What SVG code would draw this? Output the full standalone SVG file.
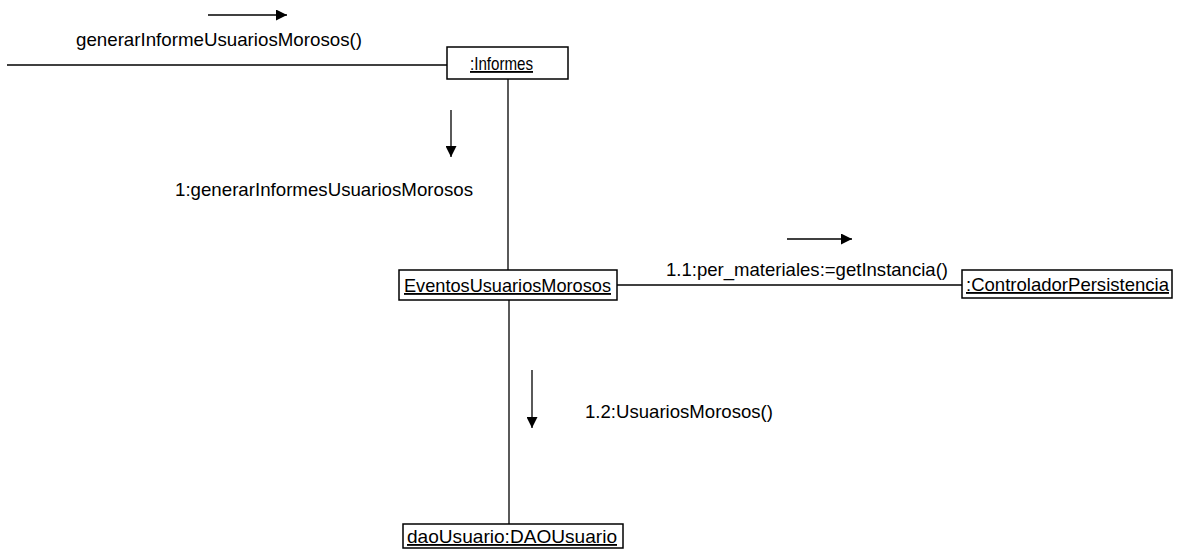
<svg xmlns="http://www.w3.org/2000/svg" width="1177" height="558" viewBox="0 0 1177 558">
  <defs>
    <style>
      .box { fill: #ffffff; stroke: #000000; stroke-width: 1.5; }
      .link { stroke: #000000; stroke-width: 1.3; fill: none; }
      .msg { stroke: #000000; stroke-width: 1.3; fill: none; marker-end: url(#head); }
      .label { font-family: "Liberation Sans", Arial, sans-serif; font-size: 18.5px; fill: #000000; }
      .name { font-family: "Liberation Sans", Arial, sans-serif; font-size: 18.5px; fill: #000000; text-decoration: underline; }
    </style>
    <marker id="head" viewBox="0 0 10 10" refX="10" refY="5" markerWidth="11" markerHeight="11" markerUnits="userSpaceOnUse" orient="auto">
      <path d="M0,0 L10,5 L0,10 Z" fill="#000000"/>
    </marker>
  </defs>
  <rect width="1177" height="558" fill="#ffffff"/>

  <!-- links between objects -->
  <g id="connectors">
    <line class="link" x1="7" y1="65" x2="447" y2="65"/>
    <line class="link" x1="508" y1="79" x2="508" y2="270"/>
    <line class="link" x1="617" y1="285" x2="962" y2="285"/>
    <line class="link" x1="509" y1="300" x2="509" y2="524"/>
  </g>

  <!-- messages: direction arrows and labels -->
  <g id="messages">
    <line class="msg" x1="208" y1="15" x2="287" y2="15"/>
    <text class="label" x="76" y="46" textLength="286" lengthAdjust="spacingAndGlyphs">generarInformeUsuariosMorosos()</text>

    <line class="msg" x1="451" y1="110" x2="451" y2="157"/>
    <text class="label" x="175" y="196" textLength="298" lengthAdjust="spacingAndGlyphs">1:generarInformesUsuariosMorosos</text>

    <line class="msg" x1="787" y1="239" x2="852" y2="239"/>
    <text class="label" x="666" y="276" textLength="282" lengthAdjust="spacingAndGlyphs">1.1:per_materiales:=getInstancia()</text>

    <line class="msg" x1="532" y1="370" x2="532" y2="428"/>
    <text class="label" x="585" y="418" textLength="188" lengthAdjust="spacingAndGlyphs">1.2:UsuariosMorosos()</text>
  </g>

  <!-- objects -->
  <g id="informes">
    <rect class="box" x="447" y="47" width="121" height="32"/>
    <text class="name" x="470" y="70" textLength="63" lengthAdjust="spacingAndGlyphs">:Informes</text>
  </g>
  <g id="eventos-usuarios-morosos">
    <rect class="box" x="399" y="270" width="218" height="30"/>
    <text class="name" x="404" y="292" textLength="207" lengthAdjust="spacingAndGlyphs">EventosUsuariosMorosos</text>
  </g>
  <g id="controlador-persistencia">
    <rect class="box" x="962" y="270" width="210" height="28"/>
    <text class="name" x="966" y="291" textLength="203" lengthAdjust="spacingAndGlyphs">:ControladorPersistencia</text>
  </g>
  <g id="dao-usuario">
    <rect class="box" x="403" y="524" width="220" height="24"/>
    <text class="name" x="407" y="543" textLength="210" lengthAdjust="spacingAndGlyphs">daoUsuario:DAOUsuario</text>
  </g>
</svg>
